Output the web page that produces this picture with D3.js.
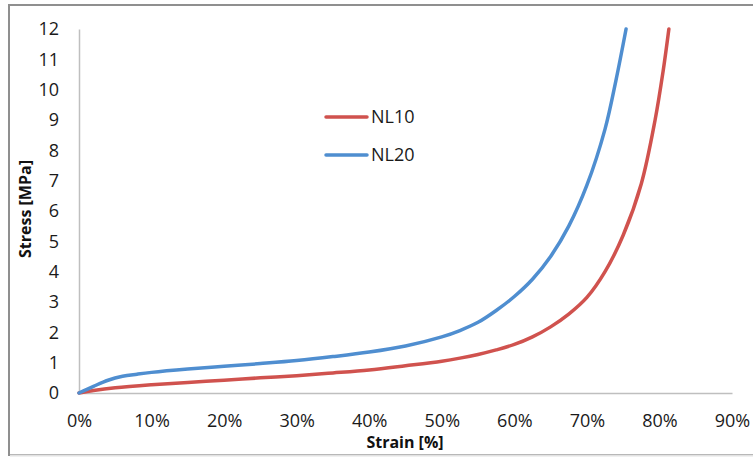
<!DOCTYPE html>
<html><head><meta charset="utf-8">
<script src="https://cdn.jsdelivr.net/npm/d3@7"></script>
<style>body{margin:0;background:#fff}svg{display:block}</style>
</head><body>
<script>
const strainNL10 = [0,2,5,10,15,20,25,30,35,40,45,50,52.5,55,57.5,60,62.5,65,67.5,70,72.5,75,77.5,79.4,80.5,81.3];
const stressNL10 = [0,0.08,0.17,0.27,0.35,0.42,0.5,0.57,0.66,0.76,0.9,1.05,1.15,1.27,1.42,1.6,1.85,2.18,2.6,3.15,4.0,5.2,6.9,9.0,10.6,12];
const strainNL20 = [0,2,4,6,8,10,15,20,25,30,35,40,45,50,52.5,55,57.5,60,62.5,65,67.5,70,72.5,74,75.4];
const stressNL20 = [0,0.22,0.42,0.55,0.62,0.68,0.79,0.88,0.97,1.07,1.2,1.35,1.55,1.85,2.06,2.33,2.72,3.18,3.75,4.5,5.5,6.85,8.7,10.3,12];
const xTicks = [0,10,20,30,40,50,60,70,80,90];
const yTicks = [0,1,2,3,4,5,6,7,8,9,10,11,12];
const seriesNames = ["NL10","NL20"];
const seriesColors = ["#d0524e","#4f8ed0"];

const W=753,H=458;
const svg=d3.select("body").append("svg").attr("width",W).attr("height",H);
svg.append("rect").attr("x",9).attr("y",5).attr("width",760).attr("height",450)
  .attr("fill","#fff").attr("stroke","#8f8f8f").attr("stroke-width",2);
svg.append("line").attr("x1",10).attr("x2",W).attr("y1",455.5).attr("y2",455.5).attr("stroke","#e2e2e2").attr("stroke-width",2);

const x=d3.scaleLinear().domain([0,90]).range([79,732]);
const y=d3.scaleLinear().domain([0,12]).range([393,29]);
const font="'Open Sans', sans-serif";

const gx=svg.append("g").attr("transform","translate(0,393)")
  .call(d3.axisBottom(x).tickValues(xTicks).tickFormat(d=>d+"%").tickSize(0).tickPadding(21));
const gy=svg.append("g").attr("transform","translate(79,0)")
  .call(d3.axisLeft(y).tickValues(yTicks).tickFormat(d3.format("d")).tickSize(0).tickPadding(20));
[gx,gy].forEach(g=>{
  g.select(".domain").attr("stroke","#bfbfbf").attr("stroke-width",1.5);
  g.selectAll("text").attr("font-family",font).attr("font-size",18).attr("fill","#1a1a1a");
});

const line=d3.line().x(d=>x(d[0])).y(d=>y(d[1])).curve(d3.curveCatmullRom.alpha(0.5));
const data=[d3.zip(strainNL10,stressNL10), d3.zip(strainNL20,stressNL20)];
data.forEach((s,i)=>{
  svg.append("path").datum(s).attr("d",line).attr("fill","none")
    .attr("stroke",seriesColors[i]).attr("stroke-width",3.5).attr("stroke-linecap","round");
});

// legend
seriesNames.forEach((n,i)=>{
  const ly=117+i*38;
  svg.append("line").attr("x1",326).attr("x2",367).attr("y1",ly).attr("y2",ly)
    .attr("stroke",seriesColors[i]).attr("stroke-width",3.5).attr("stroke-linecap","round");
  svg.append("text").attr("x",371).attr("y",ly).attr("dy","0.36em").text(n)
    .attr("font-family",font).attr("font-size",18).attr("fill","#1a1a1a");
});

svg.append("text").attr("x",405).attr("y",448).attr("text-anchor","middle")
  .attr("font-family",font).attr("font-weight","bold").attr("font-size",16).attr("fill","#111").text("Strain [%]");
svg.append("text").attr("transform","translate(31,209) rotate(-90)").attr("text-anchor","middle")
  .attr("font-family",font).attr("font-weight","bold").attr("font-size",16).attr("fill","#111").text("Stress [MPa]");
</script>
</body></html>
